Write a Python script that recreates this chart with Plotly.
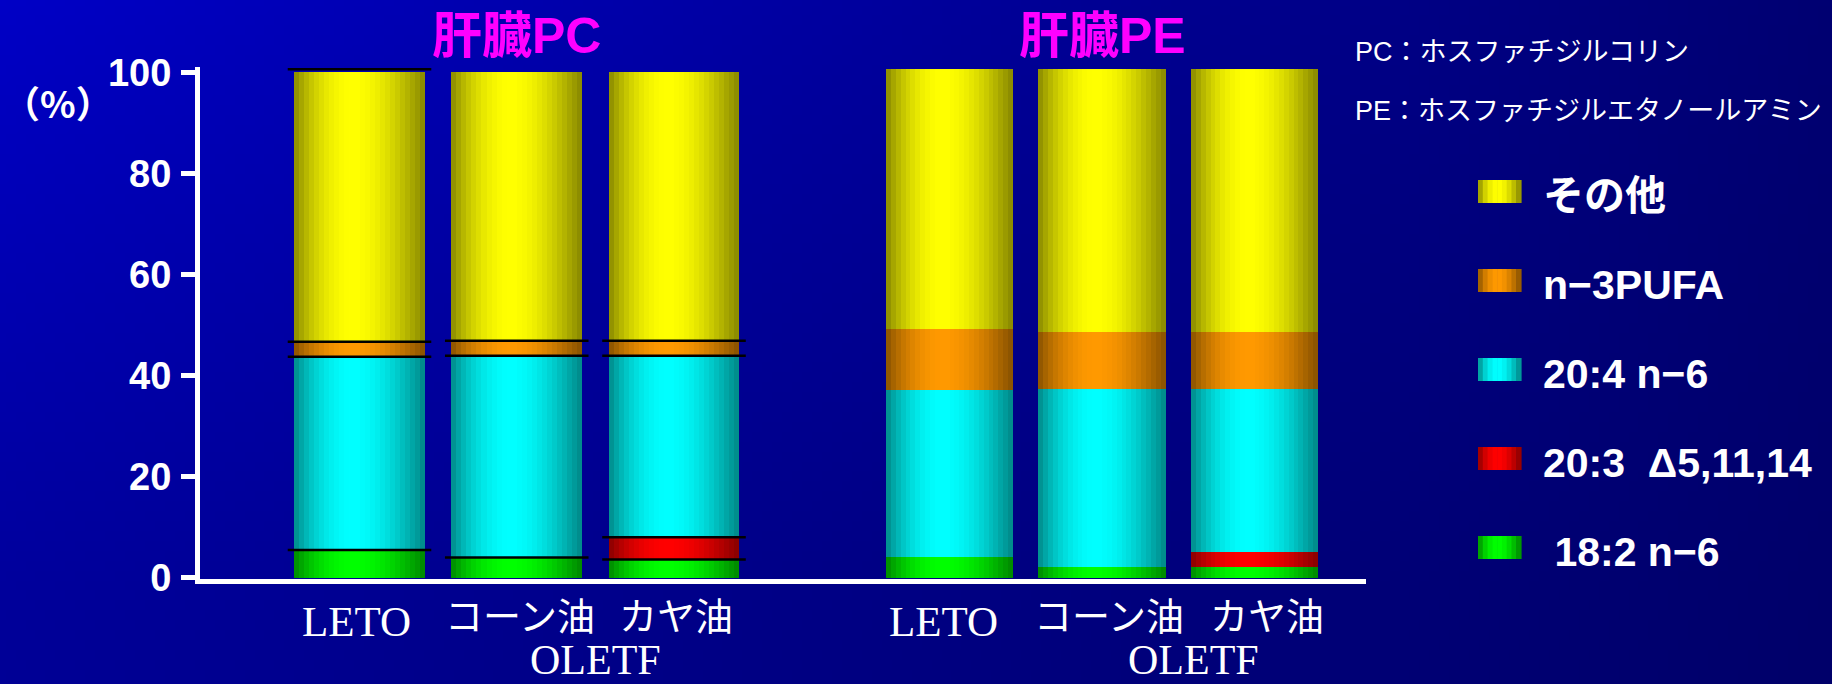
import base64
import struct
import zlib

import numpy as np
import plotly.graph_objects as go

# ---------------------------------------------------------------- data
categories = ["LETO", "コーン油", "カヤ油"]
group_label = "OLETF"
panel_titles = ["肝臓PC", "肝臓PE"]
series = ["18:2 n−6", "20:3\u00a0\u00a0Δ5,11,14", "20:4 n−6", "n−3PUFA", "その他"]
y_ticks = [0, 20, 40, 60, 80, 100]
note_lines = ["PC：ホスファチジルコリン", "PE：ホスファチジルエタノールアミン"]

# liver PC composition (%), stacked bottom to top
pc_18_2 = [5.5, 4.0, 3.6]
pc_20_3 = [0.0, 0.0, 4.4]
pc_20_4 = [38.2, 39.9, 35.9]
pc_n3 = [3.0, 3.0, 3.0]
pc_other = [53.3, 53.1, 53.1]

# liver PE composition (%)
pe_18_2 = [4.0, 2.1, 2.1]
pe_20_3 = [0.0, 0.0, 3.0]
pe_20_4 = [33.1, 35.2, 32.2]
pe_n3 = [12.1, 11.3, 11.3]
pe_other = [51.4, 52.0, 52.0]

# ---------------------------------------------------------------- styling
W, H = 1832, 684
L, R, T, B = 200, 1366, 67, 579          # plot area in pixels
ZERO_PX, PX_PER_UNIT = 577.7, 5.054      # y scale
SPLIT = 811                              # boundary between the two panels
PC_C0, PC_STEP = 359.5, 157.25           # first bar centre / spacing (px)
PE_C0, PE_STEP = 949.5, 152.5
BARW = 0.833
N_STRIPES = 26

base_rgb = [(0, 255, 0), (255, 0, 0), (0, 255, 255), (255, 153, 0), (255, 255, 0)]
LAT = "Liberation Sans, Noto Sans CJK JP"
JP = "Noto Sans CJK JP"
SERIF = "Liberation Serif"


def px_x(p):
    return (p - L) / (R - L)


def px_y(p):
    return (B - p) / (B - T)


def shade(rgb, t, edge=0.53, p=0.87):
    """Cylinder-like shading across a bar: dark edges, bright just left of centre."""
    f = edge + (1 - edge) * np.sin(np.pi * t ** p)
    r, g, b = (int(round(c * f)) for c in rgb)
    return f"rgb({r},{g},{b})"


def png_uri(rgb):
    h, w, _ = rgb.shape
    raw = b"".join(b"\x00" + rgb[y].tobytes() for y in range(h))

    def chunk(tag, data):
        return (struct.pack(">I", len(data)) + tag + data
                + struct.pack(">I", zlib.crc32(tag + data) & 0xFFFFFFFF))

    png = (b"\x89PNG\r\n\x1a\n"
           + chunk(b"IHDR", struct.pack(">IIBBBBB", w, h, 8, 2, 0, 0, 0))
           + chunk(b"IDAT", zlib.compress(raw, 9))
           + chunk(b"IEND", b""))
    return "data:image/png;base64," + base64.b64encode(png).decode()


# blue slide background, brighter at the top left
gw, gh = 184, 69
u = np.linspace(0, 1, gw)[None, :]
v = np.linspace(0, 1, gh)[:, None]
blue = 198 * (1 - u) * (1 - v) + 114 * u * (1 - v) + 150 * (1 - u) * v + 106 * u * v
bg = np.zeros((gh, gw, 3), dtype=np.uint8)
bg[..., 2] = np.clip(blue, 0, 255).astype(np.uint8)

fig = go.Figure()

panels = [
    ("x", [pc_18_2, pc_20_3, pc_20_4, pc_n3, pc_other]),
    ("x2", [pe_18_2, pe_20_3, pe_20_4, pe_n3, pe_other]),
]

shapes = []
for xa, stack in panels:
    base = np.zeros(len(categories))
    for k, vals in enumerate(stack):
        vals = np.asarray(vals, dtype=float)
        for j in range(N_STRIPES):
            t = (j + 0.5) / N_STRIPES
            w = BARW / N_STRIPES
            fig.add_trace(go.Bar(
                x=categories, y=vals, base=base,
                offset=-BARW / 2 + j * w,
                width=w * (1.4 if j < N_STRIPES - 1 else 1.0),
                marker=dict(color=shade(base_rgb[k], t), line=dict(width=0)),
                xaxis=xa, yaxis="y", showlegend=False, hoverinfo="skip",
                name=series[k],
            ))
        base = base + vals

# black rules at the segment boundaries of the PC bars
pc_cum = np.cumsum(np.array(panels[0][1]), axis=0)
for i in range(len(categories)):
    levels = sorted(set(np.round(pc_cum[:-1, i], 3)))
    if i == 0:
        levels.append(pc_cum[-1, i] + 0.6)
    for lv in levels:
        shapes.append(dict(type="line", xref="x", yref="y",
                           x0=i - BARW / 2 - 0.04, x1=i + BARW / 2 + 0.04,
                           y0=lv, y1=lv, line=dict(color="black", width=2.5)))

annotations = []
# category labels under each panel
label_shift = {"x": [-3, 3, 2], "x2": [-6, 7, 12]}
for xa in ("x", "x2"):
    for cat, dx in zip(categories, label_shift[xa]):
        latin = cat.isascii()
        annotations.append(dict(
            xref=xa, yref="paper", x=cat, y=px_y(621 if latin else 613), xshift=dx,
            text=cat, showarrow=False, xanchor="center", yanchor="middle",
            font=dict(family=SERIF if latin else JP, size=43 if latin else 38,
                      color="white"),
        ))
for xa, pos in (("x", 1.5), ("x2", 1.6)):
    annotations.append(dict(xref=xa, yref="paper", x=pos, y=px_y(660), text=group_label,
                            showarrow=False, xanchor="center", yanchor="middle",
                            font=dict(family=SERIF, size=42, color="white")))

# panel titles
for xa, title in zip(("x", "x2"), panel_titles):
    annotations.append(dict(xref=xa, yref="paper", x=categories[1], y=px_y(36),
                            text=title, showarrow=False, xanchor="center", yanchor="middle",
                            font=dict(family=LAT, size=50, color="#FF00FF", weight="bold")))

# unit label
annotations.append(dict(xref="paper", yref="paper", x=px_x(1), y=px_y(102), text="（%）",
                        showarrow=False, xanchor="left", yanchor="middle",
                        font=dict(family=JP, size=37, color="white", weight="bold")))

# abbreviations
for k, line in enumerate(note_lines):
    annotations.append(dict(xref="paper", yref="paper", x=px_x(1353), y=px_y(52 + 59 * k),
                            text=line, showarrow=False, xanchor="left", yanchor="middle",
                            font=dict(family=LAT, size=27, color="white")))

# legend (top to bottom: その他 ... 18:2)
for row, k in enumerate(range(len(series) - 1, -1, -1)):
    cy = 191.5 + 89 * row
    sx0, sx1, sh = 1478, 1521, 23
    n_sw = 9
    for j in range(n_sw):
        t = (j + 0.5) / n_sw
        a = sx0 + (sx1 - sx0) * j / n_sw
        b = sx0 + (sx1 - sx0) * (j + 1) / n_sw
        shapes.append(dict(type="rect", xref="paper", yref="paper",
                           x0=px_x(a), x1=px_x(b + 0.6), y0=px_y(cy + sh / 2), y1=px_y(cy - sh / 2),
                           fillcolor=shade(base_rgb[k], t), line=dict(width=0)))
    label = series[k] if k != 0 else "\u00a0" + series[k]
    annotations.append(dict(xref="paper", yref="paper", x=px_x(1541), y=px_y(cy + 4),
                            text=label, showarrow=False, xanchor="left", yanchor="middle",
                            font=dict(family=LAT, size=41, color="white", weight="bold")))

fig.update_layout(
    width=W, height=H, autosize=False,
    margin=dict(l=L, r=W - R, t=T, b=H - B, pad=0),
    paper_bgcolor="#00009a", plot_bgcolor="rgba(0,0,0,0)",
    barmode="overlay", bargap=0, hovermode=False,
    showlegend=False,
    images=[dict(source=png_uri(bg), xref="paper", yref="paper",
                 x=px_x(0), y=px_y(0), sizex=W / (R - L), sizey=H / (B - T),
                 xanchor="left", yanchor="top", sizing="stretch", layer="below")],
    xaxis=dict(domain=[0, px_x(SPLIT)], type="category",
               range=[(L - PC_C0) / PC_STEP, (SPLIT - PC_C0) / PC_STEP],
               showline=True, linecolor="white", linewidth=5, ticks="",
               showticklabels=False, showgrid=False, zeroline=False),
    xaxis2=dict(domain=[px_x(SPLIT), 1], type="category", anchor="y",
                range=[(SPLIT - PE_C0) / PE_STEP, (R - PE_C0) / PE_STEP],
                showline=True, linecolor="white", linewidth=5, ticks="",
                showticklabels=False, showgrid=False, zeroline=False),
    yaxis=dict(range=[(ZERO_PX - B) / PX_PER_UNIT, (ZERO_PX - T) / PX_PER_UNIT],
               tickvals=y_ticks, ticks="outside", ticklen=14, tickwidth=5,
               tickcolor="white", showline=True, linecolor="white", linewidth=5,
               showgrid=False, zeroline=False, ticklabelstandoff=2,
               tickfont=dict(family="Liberation Sans", size=38, color="white", weight="bold")),
    shapes=shapes,
    annotations=annotations,
)

fig.write_html("out.html")
